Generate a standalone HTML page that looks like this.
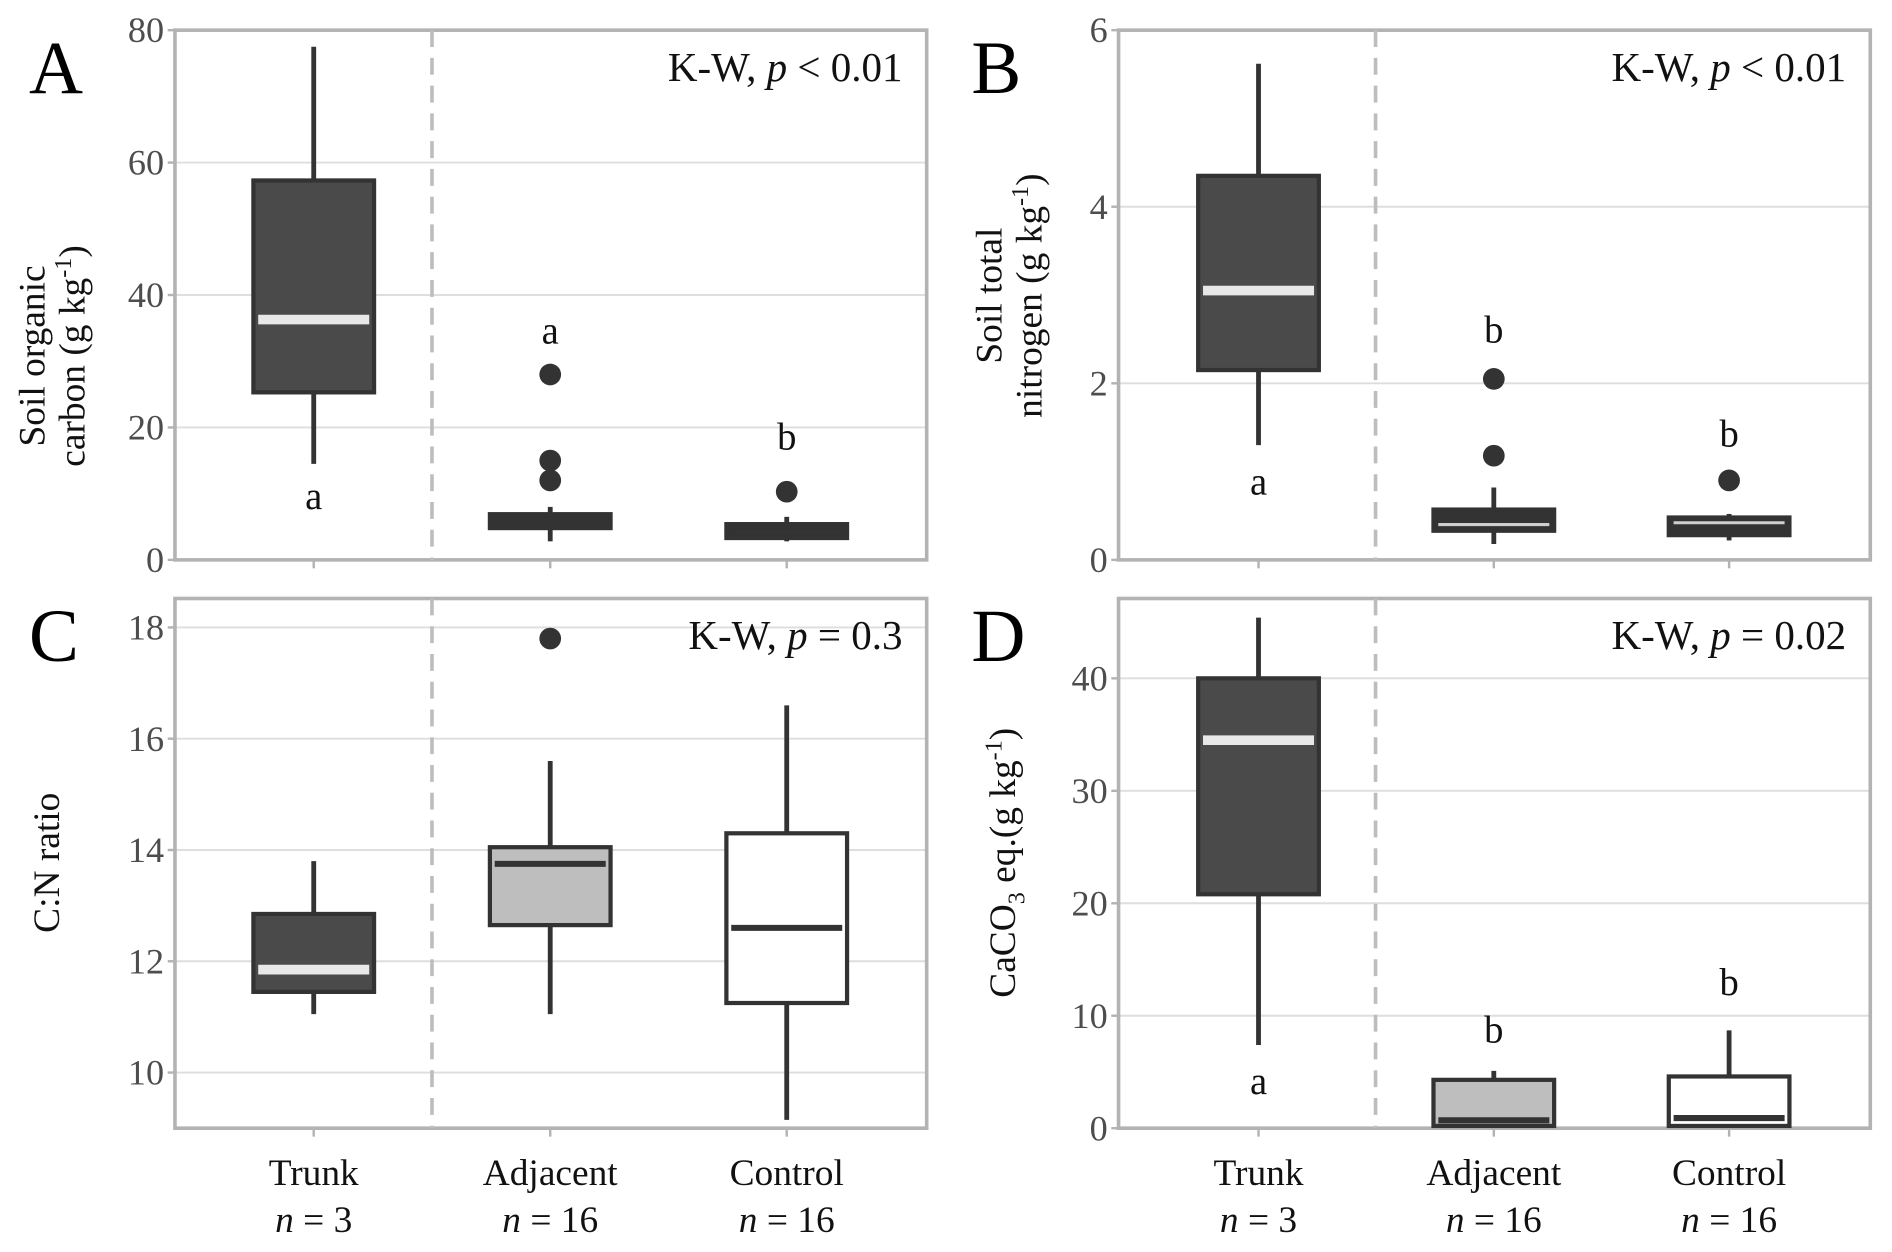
<!DOCTYPE html>
<html><head><meta charset="utf-8">
<style>
html,body{margin:0;padding:0;background:#fff;}
svg{display:block;font-family:"Liberation Serif",serif;}
</style></head>
<body>
<svg id="fig" width="1892" height="1252" viewBox="0 0 1568 1037.6" xmlns="http://www.w3.org/2000/svg"></svg>
<script>
const categories = ["Trunk","Adjacent","Control"];
const nLabels = ["n = 3","n = 16","n = 16"];
// box stats: [whiskerLow, q1, median, q3, whiskerHigh]
const socStats = [[14.5,25.3,36.3,57.3,77.5],[2.8,4.8,5.8,6.9,8.0],[2.8,3.3,4.3,5.4,6.5]];
const socOutliers = [[],[28,15,12],[10.3]];
const socLetters = [["a",9.5],["a",34.5],["b",18.5]];
const stnStats = [[1.3,2.15,3.05,4.35,5.62],[0.18,0.33,0.4,0.57,0.82],[0.22,0.28,0.42,0.48,0.52]];
const stnOutliers = [[],[2.05,1.18],[0.9]];
const stnLetters = [["a",0.88],["b",2.6],["b",1.42]];
const cnStats = [[11.05,11.45,11.85,12.85,13.8],[11.05,12.65,13.75,14.05,15.6],[9.15,11.25,12.6,14.3,16.6]];
const cnOutliers = [[],[17.8],[]];
const cnLetters = [];
const caStats = [[7.4,20.8,34.5,40.0,45.4],[0.2,0.2,0.7,4.3,5.1],[0.2,0.2,0.9,4.6,8.7]];
const caOutliers = [[],[],[]];
const caLetters = [["a",4.1],["b",8.7],["b",12.9]];
const socTicks = [0,20,40,60,80];
const stnTicks = [0,2,4,6];
const cnTicks = [10,12,14,16,18];
const caTicks = [0,10,20,30,40];

const NS="http://www.w3.org/2000/svg";
const svg=document.getElementById('fig');
function mk(tag,attrs,parent){const e=document.createElementNS(NS,tag);for(const k in attrs)e.setAttribute(k,attrs[k]);(parent||svg).appendChild(e);return e;}

function panel(cfg){
  const g=mk('g',{});
  
  
  const {x0,x1,y0,y1,vmin,vmax}=cfg;
  const ys=v=>y1-(v-vmin)/(vmax-vmin)*(y1-y0);
  const xs=i=>cfg.cx[i];
  cfg.ticks.forEach(t=>{
    const gl=mk('line',{x1:x0,x2:x1,y1:ys(t),y2:ys(t),stroke:'#dedede','stroke-width':1.6},g);
    
    
    mk('line',{x1:x0-6,x2:x0,y1:ys(t),y2:ys(t),stroke:'#b3b3b3','stroke-width':2},g);
    const tl=mk('text',{x:x0-9,y:ys(t)+10,'text-anchor':'end','font-size':30,fill:'#4d4d4d'},g);
    tl.textContent=t;
    
    
  });
  const fr=mk('rect',{x:x0,y:y0,width:x1-x0,height:y1-y0,fill:'none',stroke:'#b3b3b3','stroke-width':3},g);
  
  
  cfg.cx.forEach(c=>mk('line',{x1:c,x2:c,y1:y1,y2:y1+7,stroke:'#b3b3b3','stroke-width':2},g));
  const dl=mk('line',{x1:cfg.div,x2:cfg.div,y1:y0,y2:y1,stroke:'#bdbdbd','stroke-width':3,'stroke-dasharray':'14,9'},g);
  
  
  const hw=50;
  cfg.stats.forEach((s,i)=>{
    const c=xs(i);
    const fill=cfg.fills[i];
    const wl=mk('line',{x1:c,x2:c,y1:ys(s[0]),y2:ys(s[4]),stroke:'#333','stroke-width':4},g);
    
    
    const top=ys(s[3]),bot=ys(s[1]);
    const b=mk('rect',{x:c-hw,y:top,width:2*hw,height:Math.max(bot-top,1),fill:fill,stroke:'#333','stroke-width':3.5},g);
    
    
    const mc=cfg.medColors[i];
    const mw=mc==='#333'?5:((cfg.thinMed&&i>0)?2.5:8);
    const m=mk('line',{x1:c-hw+4,x2:c+hw-4,y1:ys(s[2]),y2:ys(s[2]),stroke:mc,'stroke-width':mw},g);
    
    
    cfg.outliers[i].forEach(o=>{
      const p=mk('circle',{cx:c,cy:ys(o),r:9,fill:'#333'},g);
      
      
    });
  });
  cfg.letters.forEach((l,i)=>{
    const t=mk('text',{x:xs(i),y:ys(l[1])+10,'text-anchor':'middle','font-size':32,fill:'#111'},g);
    t.textContent=l[0];
    
    
  });
  const pl=mk('text',{x:cfg.lx,y:y0+52,'font-size':62,fill:'#000'},g);
  pl.textContent=cfg.letter;
  
  
  const kw=mk('text',{x:x1-20,y:y0+42,'text-anchor':'end','font-size':34,fill:'#111'},g);
  kw.innerHTML=cfg.kw;
  
  
  const yt=mk('text',{transform:`translate(${cfg.tx},${cfg.ty}) rotate(-90)`,'text-anchor':'middle','font-size':31,fill:'#111'},g);
  yt.innerHTML=cfg.title;
  
  
}
const L=[260,456,652], R=[1043,1238,1433];
const darkFills=['#4a4a4a','#333','#333'];
panel({name:'panel-a-soil-organic-carbon',x0:145,x1:768,y0:25,y1:464,vmin:0,vmax:80,cx:L,div:358,ticks:socTicks,stats:socStats,outliers:socOutliers,letters:socLetters,fills:darkFills,medColors:['#e8e8e8','#333','#333'],letter:'A',lx:24,kw:'K-W, <tspan font-style="italic">p</tspan> &lt; 0.01',tx:42,ty:295,
 title:'<tspan x="0" dy="-5">Soil organic</tspan><tspan x="0" dy="33">carbon (g kg<tspan dy="-11" font-size="20">-1</tspan><tspan dy="11">)</tspan></tspan>'});
panel({name:'panel-b-soil-total-nitrogen',x0:927,x1:1550,y0:25,y1:464,vmin:0,vmax:6,cx:R,div:1140,ticks:stnTicks,stats:stnStats,outliers:stnOutliers,letters:stnLetters,fills:darkFills,medColors:['#e8e8e8','#cfcfcf','#cfcfcf'],thinMed:true,letter:'B',lx:805,kw:'K-W, <tspan font-style="italic">p</tspan> &lt; 0.01',tx:835,ty:245,
 title:'<tspan x="0" dy="-5">Soil total</tspan><tspan x="0" dy="33">nitrogen (g kg<tspan dy="-11" font-size="20">-1</tspan><tspan dy="11">)</tspan></tspan>'});
panel({name:'panel-c-cn-ratio',x0:145,x1:768,y0:496,y1:935,vmin:9.0,vmax:18.52,cx:L,div:358,ticks:cnTicks,stats:cnStats,outliers:cnOutliers,letters:cnLetters,fills:['#4a4a4a','#bebebe','#ffffff'],medColors:['#e8e8e8','#333','#333'],letter:'C',lx:24,kw:'K-W, <tspan font-style="italic">p</tspan> = 0.3',tx:49,ty:715,title:'C:N ratio'});
panel({name:'panel-d-caco3',x0:927,x1:1550,y0:496,y1:935,vmin:0,vmax:47.1,cx:R,div:1140,ticks:caTicks,stats:caStats,outliers:caOutliers,letters:caLetters,fills:['#4a4a4a','#bebebe','#ffffff'],medColors:['#e8e8e8','#333','#333'],letter:'D',lx:805,kw:'K-W, <tspan font-style="italic">p</tspan> = 0.02',tx:841,ty:715,
 title:'CaCO<tspan dy="8" font-size="20">3</tspan><tspan dy="-8"> eq.(g kg</tspan><tspan dy="-11" font-size="20">-1</tspan><tspan dy="11">)</tspan>'});
[L,R].forEach(xsArr=>{
  categories.forEach((c,i)=>{
    const t=mk('text',{x:xsArr[i],y:982,'text-anchor':'middle','font-size':31,fill:'#111'});
    t.textContent=c;
    
    
    const n=mk('text',{x:xsArr[i],y:1021,'text-anchor':'middle','font-size':31,fill:'#111'});
    n.innerHTML='<tspan font-style="italic">n</tspan>'+nLabels[i].slice(1);
    
    
  });
});
</script>
</body></html>
